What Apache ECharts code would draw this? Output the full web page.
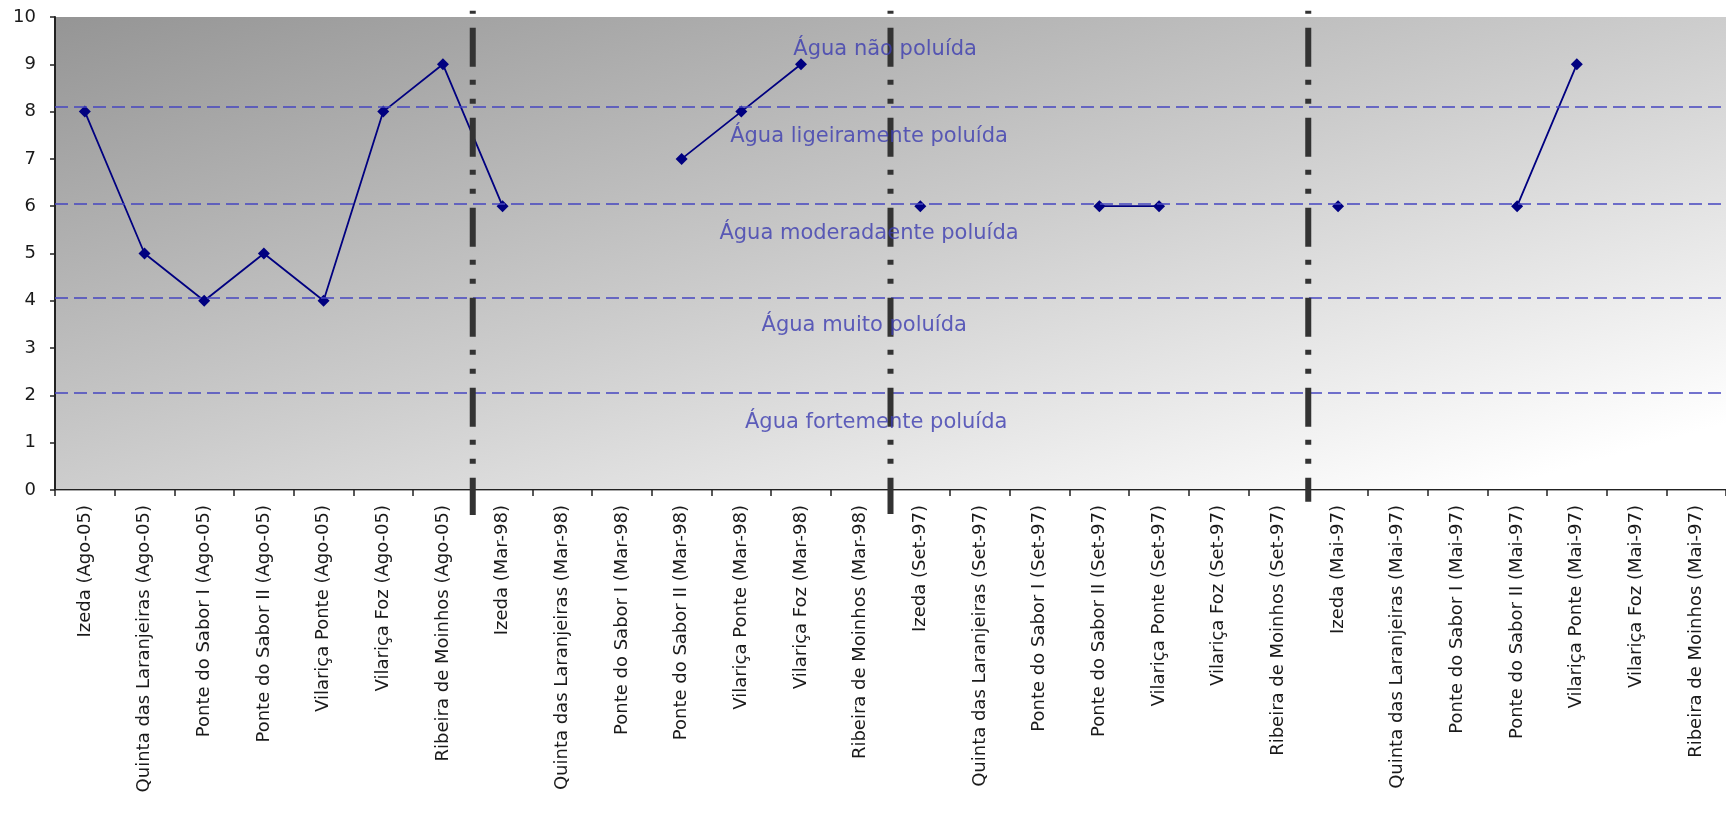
<!DOCTYPE html>
<html>
<head>
<meta charset="utf-8">
<script src="https://cdn.jsdelivr.net/npm/echarts@6/dist/echarts.min.js"></script>
<style>
html,body{margin:0;padding:0;background:#fff;}
#chart{width:1726px;height:816px;}
</style>
</head>
<body>
<div id="chart"></div>
<script>
// ---- data ----
const categories = [
  'Izeda (Ago-05)', 'Quinta das Laranjeiras (Ago-05)', 'Ponte do Sabor I (Ago-05)', 'Ponte do Sabor II (Ago-05)',
  'Vilariça Ponte (Ago-05)', 'Vilariça Foz (Ago-05)', 'Ribeira de Moinhos (Ago-05)',
  'Izeda (Mar-98)', 'Quinta das Laranjeiras (Mar-98)', 'Ponte do Sabor I (Mar-98)', 'Ponte do Sabor II (Mar-98)',
  'Vilariça Ponte (Mar-98)', 'Vilariça Foz (Mar-98)', 'Ribeira de Moinhos (Mar-98)',
  'Izeda (Set-97)', 'Quinta das Laranjeiras (Set-97)', 'Ponte do Sabor I (Set-97)', 'Ponte do Sabor II (Set-97)',
  'Vilariça Ponte (Set-97)', 'Vilariça Foz (Set-97)', 'Ribeira de Moinhos (Set-97)',
  'Izeda (Mai-97)', 'Quinta das Laranjeiras (Mai-97)', 'Ponte do Sabor I (Mai-97)', 'Ponte do Sabor II (Mai-97)',
  'Vilariça Ponte (Mai-97)', 'Vilariça Foz (Mai-97)', 'Ribeira de Moinhos (Mai-97)'
];
const values = [
  8, 5, 4, 5, 4, 8, 9,
  6, null, null, 7, 8, 9, null,
  6, null, null, 6, 6, null, null,
  6, null, null, 6, 9, null, null
];
const yTicks = [0, 10, 1]; // min, max, interval
const zoneLimits = [8.1, 6.05, 4.07, 2.06];
const zoneLabels = ['Água não poluída', 'Água ligeiramente poluída', 'Água moderadaente poluída', 'Água muito poluída', 'Água fortemente poluída'];
const zoneLabelX = [13.91, 13.64, 13.64, 13.56, 13.76];
const zoneLabelY = [9.31, 7.48, 5.43, 3.47, 1.42];
const periodBreaks = [7, 14, 21];
const breakTop = [10.13, 10.13, 10.13];
const breakBottom = [-0.53, -0.51, -0.25];

// ---- layout ----
const FONT = 'DejaVu Sans';
const G = {left: 55, top: 17, right: 0, bottom: 326};
const W = 1726, H = 816;
const gw = W - G.left - G.right, gh = H - G.top - G.bottom;
const s = 2 / (gh / gw + gw / gh);
const bg = {
  type: 'linear', global: true,
  x: G.left, y: G.top, x2: G.left + s * gh, y2: G.top + s * gw,
  colorStops: [
    {offset: 0, color: '#959595'},
    {offset: 0.5, color: '#cdcdcd'},
    {offset: 0.93, color: '#ffffff'},
    {offset: 1, color: '#ffffff'}
  ]
};

const chart = echarts.init(document.getElementById('chart'), null, {renderer: 'canvas'});
chart.setOption({
  animation: false,
  textStyle: {fontFamily: FONT},
  grid: Object.assign({show: true, backgroundColor: bg, borderWidth: 0}, G),
  xAxis: [
    {
      type: 'category', data: categories, boundaryGap: true, position: 'bottom',
      axisLine: {show: true, onZero: false, lineStyle: {color: '#222', width: 2}},
      axisTick: {show: true, interval: 0, length: 6, lineStyle: {color: '#222', width: 1.5}},
      axisLabel: {interval: 0, rotate: 90, fontSize: 18, color: '#1a1a1a', margin: 15, fontFamily: FONT},
      splitLine: {show: false}
    },
    {
      type: 'value', min: 0, max: categories.length, position: 'top',
      axisLine: {show: true, lineStyle: {color: '#a8a8a8', width: 1}},
      axisTick: {show: false}, axisLabel: {show: false}, splitLine: {show: false}
    }
  ],
  yAxis: [{
    type: 'value', min: yTicks[0], max: yTicks[1], interval: yTicks[2],
    axisLine: {show: true, lineStyle: {color: '#222', width: 2}},
    axisTick: {show: true, length: 5, lineStyle: {color: '#222', width: 1.5}},
    axisLabel: {fontSize: 18, color: '#1a1a1a', margin: 19, fontFamily: FONT},
    splitLine: {show: false}
  }],
  series: [
    {
      type: 'line', xAxisIndex: 0, yAxisIndex: 0, data: values,
      connectNulls: false, showAllSymbol: true,
      symbol: 'diamond', symbolSize: 12,
      lineStyle: {color: '#000080', width: 1.8},
      itemStyle: {color: '#000080'},
      z: 4,
      markLine: {
        silent: true, symbol: ['none', 'none'], label: {show: false},
        lineStyle: {color: '#4646c0', width: 1.5, type: [13, 6]},
        data: zoneLimits.map(v => ({yAxis: v}))
      }
    },
    {
      type: 'custom', xAxisIndex: 1, yAxisIndex: 0, z: 6, clip: false,
      data: periodBreaks.map((b, i) => [b, breakTop[i], breakBottom[i]]),
      renderItem: function (params, api) {
        const p1 = api.coord([api.value(0), api.value(1)]);
        const p2 = api.coord([api.value(0), api.value(2)]);
        return {
          type: 'line',
          shape: {x1: p1[0], y1: p1[1], x2: p2[0], y2: p2[1]},
          style: {stroke: '#333333', lineWidth: 6, lineDash: [39, 13, 5, 14, 5, 14], lineDashOffset: 73, lineCap: 'butt'}
        };
      }
    },
    {
      type: 'scatter', xAxisIndex: 1, yAxisIndex: 0, z: 7, silent: true,
      symbolSize: 1, itemStyle: {color: 'rgba(0,0,0,0)'},
      data: zoneLabelX.map((x, i) => [x, zoneLabelY[i]]),
      label: {
        show: true, position: 'inside', fontSize: 21, color: '#3c3cb0', fontFamily: FONT,
        formatter: p => zoneLabels[p.dataIndex]
      }
    }
  ]
});
</script>
</body>
</html>
